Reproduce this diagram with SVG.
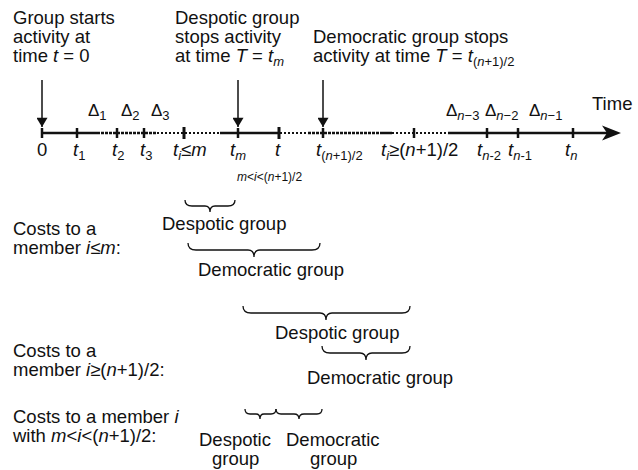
<svg xmlns="http://www.w3.org/2000/svg" width="638" height="470" viewBox="0 0 638 470">
<style>
text{font-family:"Liberation Sans",Arial,Helvetica,sans-serif;font-size:18.5px;fill:#111}
.i{font-style:italic}
.sub{font-size:13px}
.d{font-size:17px}
.sm{font-size:12px}
.axis{stroke:#111;stroke-width:2.5;fill:none}
.tick{stroke:#111;stroke-width:2.5}
.dash{stroke:#111;stroke-width:2.5;stroke-dasharray:3 1;fill:none}
.dot{stroke:#111;stroke-width:2;stroke-dasharray:2 2;fill:none}
.arr{stroke:#111;stroke-width:1.5}
.brace{stroke:#111;stroke-width:1.3;fill:none}
</style>
<defs>
<marker id="ah" viewBox="0 0 10 12" refX="10" refY="6" markerWidth="12" markerHeight="11" markerUnits="userSpaceOnUse" orient="auto"><path d="M0,0 L10,6 L0,12 Z" fill="#111"/></marker>
</defs>

<g id="label-start">
<text x="13" y="24">Group starts</text>
<text x="13" y="43">activity at</text>
<text x="13" y="62">time <tspan class="i">t</tspan> = 0</text>
</g>
<g id="label-despotic-stop">
<text x="175" y="24">Despotic group</text>
<text x="175" y="43">stops activity</text>
<text x="175" y="62">at time <tspan class="i">T</tspan> = <tspan class="i">t</tspan><tspan class="sub i" dy="4">m</tspan></text>
</g>
<g id="label-democratic-stop">
<text x="313" y="43">Democratic group stops</text>
<text x="313" y="62">activity at time <tspan class="i">T</tspan> = <tspan class="i">t</tspan><tspan class="sub" dy="4">(<tspan class="i">n</tspan>+1)/2</tspan></text>
</g>

<g id="connectors">
<line class="arr" x1="42" y1="80" x2="42" y2="127" marker-end="url(#ah)"/>
<line class="arr" x1="238" y1="80" x2="238" y2="127" marker-end="url(#ah)"/>
<line class="arr" x1="323" y1="80" x2="323" y2="127" marker-end="url(#ah)"/>
</g>

<g id="timeline">
<path class="axis" d="M42,133 H97"/>
<path class="dash" d="M97,133 H157"/>
<path class="dot" d="M157,133 H220"/>
<path class="axis" d="M220,133 H280"/>
<path class="dot" d="M280,133 H308"/>
<path class="dash" d="M308,133 H380"/>
<path class="axis" d="M380,133 H392"/>
<path class="dot" d="M392,133 H448"/>
<path class="axis" d="M448,133 H607"/>
<path d="M621,133 L602,125.5 L607,133 L602,140.5 Z" fill="#111"/>
<line class="tick" x1="42" y1="128" x2="42" y2="138"/>
<line class="tick" x1="77" y1="128" x2="77" y2="138"/>
<line class="tick" x1="117" y1="128" x2="117" y2="138"/>
<line class="tick" x1="144" y1="128" x2="144" y2="138"/>
<line class="tick" x1="184" y1="127" x2="184" y2="139" style="stroke-width:3"/>
<line class="tick" x1="238" y1="128" x2="238" y2="138"/>
<line class="tick" x1="279" y1="127" x2="279" y2="139" style="stroke-width:3"/>
<line class="tick" x1="323" y1="128" x2="323" y2="138"/>
<line class="tick" x1="414" y1="128" x2="414" y2="138"/>
<line class="tick" x1="487" y1="128" x2="487" y2="138"/>
<line class="tick" x1="518" y1="128" x2="518" y2="138"/>
<line class="tick" x1="573" y1="128" x2="573" y2="138"/>
</g>

<g id="deltas">
<text class="d" x="88" y="116">Δ<tspan class="sub" dy="4">1</tspan></text>
<text class="d" x="121" y="116">Δ<tspan class="sub" dy="4">2</tspan></text>
<text class="d" x="151" y="116">Δ<tspan class="sub" dy="4">3</tspan></text>
<text class="d" x="446" y="116">Δ<tspan class="sub" dy="4"><tspan class="i">n</tspan>−3</tspan></text>
<text class="d" x="485" y="116">Δ<tspan class="sub" dy="4"><tspan class="i">n</tspan>−2</tspan></text>
<text class="d" x="529" y="116">Δ<tspan class="sub" dy="4"><tspan class="i">n</tspan>−1</tspan></text>
<text x="592" y="110">Time</text>
</g>

<g id="tick-labels">
<text x="37" y="156">0</text>
<text class="i" x="73" y="156">t<tspan class="sub" dy="4" font-style="normal">1</tspan></text>
<text class="i" x="112" y="156">t<tspan class="sub" dy="4" font-style="normal">2</tspan></text>
<text class="i" x="140" y="156">t<tspan class="sub" dy="4" font-style="normal">3</tspan></text>
<text x="173" y="156"><tspan class="i">t</tspan><tspan class="sub i" dy="4">i</tspan><tspan dy="-4">≤</tspan><tspan class="i">m</tspan></text>
<text class="i" x="230" y="156">t<tspan class="sub" dy="4">m</tspan></text>
<text class="i" x="275" y="156">t</text>
<text x="316" y="156"><tspan class="i">t</tspan><tspan class="sub" dy="4">(<tspan class="i">n</tspan>+1)/2</tspan></text>
<text x="381" y="156"><tspan class="i">t</tspan><tspan class="sub i" dy="4">i</tspan><tspan dy="-4">≥(<tspan class="i">n</tspan>+1)/2</tspan></text>
<text x="477" y="156"><tspan class="i">t</tspan><tspan class="sub" dy="4"><tspan class="i">n</tspan>-2</tspan></text>
<text x="508" y="156"><tspan class="i">t</tspan><tspan class="sub" dy="4"><tspan class="i">n</tspan>-1</tspan></text>
<text x="565" y="156"><tspan class="i">t</tspan><tspan class="sub i" dy="4">n</tspan></text>
<text class="sm" x="237" y="181"><tspan class="i">m</tspan>&lt;<tspan class="i">i</tspan>&lt;(<tspan class="i">n</tspan>+1)/2</text>
</g>

<g id="row1">
<text x="13" y="235">Costs to a</text>
<text x="13" y="254">member <tspan class="i">i</tspan>≤<tspan class="i">m</tspan>:</text>
<path class="brace" d="M185,200 Q185,206 192,206 L205,206 Q210,206 210,212 Q210,206 215,206 L228,206 Q235,206 235,200"/>
<text x="162" y="230">Despotic group</text>
<path class="brace" d="M188,243 Q188,250 196,250 L248,250 Q254,250 254,257 Q254,250 260,250 L312,250 Q320,250 320,243"/>
<text x="198" y="276">Democratic group</text>
</g>

<g id="row2">
<text x="13" y="357">Costs to a</text>
<text x="13" y="376">member <tspan class="i">i</tspan>≥(<tspan class="i">n</tspan>+1)/2:</text>
<path class="brace" d="M243,306 Q243,313 251,313 L320,313 Q326,313 326,320 Q326,313 332,313 L402,313 Q410,313 410,306"/>
<text x="275" y="339">Despotic group</text>
<path class="brace" d="M322,346 Q322,353 330,353 L360,353 Q366,353 366,360 Q366,353 372,353 L402,353 Q410,353 410,346"/>
<text x="307" y="384">Democratic group</text>
</g>

<g id="row3">
<text x="13" y="423">Costs to a member <tspan class="i">i</tspan></text>
<text x="13" y="442">with <tspan class="i">m</tspan>&lt;<tspan class="i">i</tspan>&lt;(<tspan class="i">n</tspan>+1)/2:</text>
<path class="brace" d="M245,409 Q245,414 250,414 L256,414 Q260,414 260,419 Q260,414 264,414 L271,414 Q276,414 276,409"/>
<path class="brace" d="M276,409 Q276,414 281,414 L294,414 Q299,414 299,419 Q299,414 304,414 L317,414 Q322,414 322,409"/>
<text x="199" y="446">Despotic</text>
<text x="212" y="465">group</text>
<text x="286" y="446">Democratic</text>
<text x="310" y="465">group</text>
</g>
</svg>
